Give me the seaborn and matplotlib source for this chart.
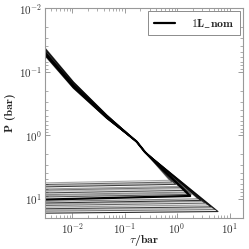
import numpy as np
import pandas as pd
import matplotlib
matplotlib.use("Agg")
import matplotlib.pyplot as plt
import seaborn as sns

# nominal profile (1L_nom): diagonal part then return branch
nom_tau = [1.5e-3, 3.1e-3, 0.0106, 0.046, 0.17, 0.246, 1.78, 1.0e-3]
nom_p = [0.025, 0.051, 0.163, 0.515, 1.27, 1.86, 9.1, 10.6]

# ensemble members (gray)
p_top = [0.021, 0.028, 0.023, 0.026, 0.022, 0.029, 0.0235, 0.027, 0.0225, 0.025,
         0.0275, 0.0215, 0.026, 0.023, 0.028, 0.022, 0.0265, 0.0215, 0.0245, 0.027]
p_a = [0.145, 0.180, 0.152, 0.170, 0.148, 0.184, 0.156, 0.175, 0.150, 0.166,
       0.178, 0.146, 0.170, 0.154, 0.181, 0.149, 0.172, 0.147, 0.162, 0.176]
p_b = [0.485, 0.545, 0.495, 0.530, 0.49, 0.55, 0.50, 0.535, 0.49, 0.52,
       0.54, 0.485, 0.53, 0.50, 0.545, 0.49, 0.535, 0.487, 0.515, 0.54]
turn_tau = [0.72, 0.80, 0.87, 0.94, 1.08, 1.17, 1.27, 1.41, 1.58, 1.70,
            1.86, 2.52, 2.82, 3.06, 3.39, 3.83, 4.39, 4.75, 5.27, 6.04]
turn_p = [5.16, 5.50, 5.74, 5.97, 6.43, 6.71, 7.01, 7.43, 7.90, 8.19,
          8.59, 10.1, 10.7, 11.1, 11.8, 12.6, 13.5, 14.1, 14.9, 16.0]
end_p = [5.77, 6.12, 6.40, 6.66, 7.17, 7.48, 7.82, 8.28, 8.81, 9.14,
         9.58, 11.2, 11.9, 12.4, 13.0, 13.8, 14.6, 15.2, 15.9, 17.1]
shade = [0.35, 0.6, 0.3, 0.75, 0.4, 0.55, 0.3, 0.7, 0.45, 0.35,
         0.65, 0.5, 0.8, 0.35, 0.6, 0.4, 0.75, 0.3, 0.55, 0.85]

sns.set_style("ticks")
plt.rcParams["font.family"] = ["cmr10", "DejaVu Serif"]
plt.rcParams["mathtext.fontset"] = "cm"
plt.rcParams["axes.formatter.use_mathtext"] = True
plt.rcParams["font.size"] = 8

fig = plt.figure(figsize=(2.49, 2.49), dpi=100)
ax = fig.add_axes([0.181, 0.124, 0.795, 0.844])
ax.set_xscale("log")
ax.set_yscale("log")

for i in range(len(end_p)):
    taus = [1.5e-3, 0.0106, 0.046, 0.17, 0.246, turn_tau[i], 1.0e-3]
    ps = [p_top[i], p_a[i], p_b[i], 1.27, 1.86, turn_p[i], end_p[i]]
    sns.lineplot(x=taus, y=ps, sort=False, estimator=None, color="k",
                 alpha=shade[i], lw=0.8, ax=ax)

sns.lineplot(x=nom_tau, y=nom_p, sort=False, estimator=None, color="k",
             lw=1.6, label=r"$\mathbf{1L\_nom}$", ax=ax)

ax.set_xlim(3.06e-3, 18.1)
ax.set_ylim(20.3, 1e-2)

ax.tick_params(which="both", direction="in", top=True, right=True,
               color="0.55", labelsize=8, labelcolor="0.2", pad=2)
ax.tick_params(which="major", length=3.5, width=0.6)
ax.tick_params(which="minor", length=2, width=0.5)
for s in ax.spines.values():
    s.set_color("0.6")
    s.set_linewidth(0.8)

ax.set_xlabel(r"$\tau$/bar", fontfamily=["cmb10", "DejaVu Serif"], fontsize=8.5)
ax.xaxis.set_label_coords(0.5, -0.07)
ax.set_ylabel("P (bar)", fontfamily=["cmb10", "DejaVu Serif"], fontsize=8.5, labelpad=2)

leg = ax.legend(loc="upper right", fancybox=False, edgecolor="0.55",
                prop={"size": 8.5}, borderaxespad=0.25, framealpha=1,
                handlelength=1.8, handletextpad=1.35, borderpad=0.5)
leg.get_frame().set_linewidth(0.7)

fig.savefig("out.png", dpi=100)
